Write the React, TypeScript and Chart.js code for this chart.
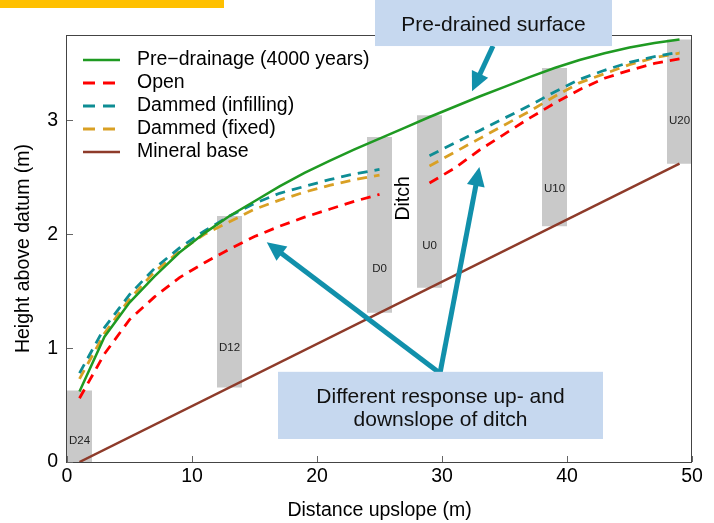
import React, { useEffect, useRef } from "react";
import { Chart, registerables } from "chart.js";

Chart.register(...registerables);

// ---------------- data ----------------
const xAll = [1, 3, 5, 7, 9, 11, 13, 15, 17, 19, 21, 23, 25, 27, 29, 31, 33, 35, 37, 39, 41, 43, 45, 47, 49];
const preDrainage = [0.62, 1.1, 1.4, 1.63, 1.84, 2.01, 2.16, 2.29, 2.42, 2.54, 2.645, 2.745, 2.84, 2.935, 3.03, 3.12, 3.21, 3.295, 3.38, 3.46, 3.53, 3.59, 3.64, 3.68, 3.71];

const xDown = [1, 3, 5, 7, 9, 11, 13, 15, 17, 19, 21, 23, 25];
const xUp = [29, 31, 33, 35, 37, 39, 41, 43, 45, 47, 49];

const openDown = [0.56, 0.95, 1.25, 1.45, 1.62, 1.75, 1.87, 1.98, 2.07, 2.15, 2.22, 2.29, 2.35];
const openUp = [2.45, 2.58, 2.74, 2.88, 3.02, 3.15, 3.27, 3.37, 3.44, 3.5, 3.54];

const infillDown = [0.78, 1.18, 1.47, 1.7, 1.88, 2.03, 2.16, 2.27, 2.36, 2.42, 2.48, 2.53, 2.57];
const infillUp = [2.69, 2.8, 2.91, 3.02, 3.13, 3.25, 3.36, 3.44, 3.51, 3.56, 3.6];

const fixedDown = [0.73, 1.13, 1.43, 1.67, 1.85, 2.0, 2.11, 2.22, 2.3, 2.37, 2.43, 2.48, 2.52];
const fixedUp = [2.6, 2.72, 2.84, 2.96, 3.08, 3.21, 3.33, 3.41, 3.49, 3.55, 3.59];

const mineralX = [1, 49];
const mineralY = [0, 2.62];

const barNames = ["D24", "D12", "D0", "U0", "U10", "U20"];
const barX = [1, 13, 25, 29, 39, 49];
const barBottom = [0, 0.655, 1.31, 1.53, 2.07, 2.62];
const barTop = [0.628, 2.16, 2.855, 3.045, 3.46, 3.71];

const xTicks = [0, 10, 20, 30, 40, 50];
const yTicks = [0, 1, 2, 3];

const seriesLabels = ["Pre\u2212drainage (4000 years)", "Open", "Dammed (infilling)", "Dammed (fixed)", "Mineral base"];

// ---------------- annotation layout (data units) ----------------
const barLabelY = [0.19, 1.0, 1.7, 1.9, 2.4, 3.0];
const ditchPos = { x: 26.96, y: 2.315 };
const topBox = { x0: 24.64, x1: 43.6, y0: 4.07, y1: 3.653, text: ["Pre-drained surface"], textY: [3.84] };
const bottomBox = { x0: 16.88, x1: 42.88, y0: 0.792, y1: 0.202, text: ["Different response up- and", "downslope of ditch"], textY: [0.572, 0.37] };
const arrows = [
  { from: [34.08, 3.653], to: [32.4, 3.257] },
  { from: [29.84, 0.78], to: [15.98, 1.93] },
  { from: [29.84, 0.78], to: [32.99, 2.59] },
];

const FONT = "'Liberation Sans', Arial, Helvetica, sans-serif";
const ARROW_COLOR = "#1190ab";
const BOX_COLOR = "#c6d8ef";

function withGap(down: number[], up: number[]) {
  return [
    ...xDown.map((x, i) => ({ x, y: down[i] })),
    { x: (xDown[xDown.length - 1] + xUp[0]) / 2, y: null },
    ...xUp.map((x, i) => ({ x, y: up[i] })),
  ];
}

const decorPlugin = {
  id: "decor",
  afterDatasetsDraw(chart: any) {
    const { ctx, chartArea, scales } = chart;
    const { left, right, top, bottom } = chartArea;
    const X = (v: number) => scales.x.getPixelForValue(v);
    const Y = (v: number) => scales.y.getPixelForValue(v);
    ctx.save();
    // frame
    ctx.strokeStyle = "#444";
    ctx.lineWidth = 1;
    ctx.setLineDash([]);
    ctx.strokeRect(Math.round(left) - 0.5, Math.round(top) + 0.5, Math.round(right - left), Math.round(bottom - top));
    // inward ticks
    ctx.strokeStyle = "#666";
    ctx.beginPath();
    scales.x.ticks.forEach((t: any) => {
      const px = Math.round(X(t.value)) + 0.5;
      ctx.moveTo(px, bottom);
      ctx.lineTo(px, bottom - 6);
    });
    scales.y.ticks.forEach((t: any) => {
      const py = Math.round(Y(t.value)) + 0.5;
      ctx.moveTo(left, py);
      ctx.lineTo(left + 6, py);
    });
    ctx.stroke();

    // bar labels
    ctx.fillStyle = "#222";
    ctx.font = `11.5px ${FONT}`;
    ctx.textAlign = "center";
    ctx.textBaseline = "middle";
    barNames.forEach((n, i) => ctx.fillText(n, X(barX[i]), Y(barLabelY[i])));

    // Ditch label
    ctx.save();
    ctx.fillStyle = "#000";
    ctx.font = `19.5px ${FONT}`;
    ctx.translate(X(ditchPos.x), Y(ditchPos.y));
    ctx.rotate(-Math.PI / 2);
    ctx.fillText("Ditch", 0, 0);
    ctx.restore();

    // legend
    const ds = chart.data.datasets.slice(0, 5);
    ds.forEach((d: any, i: number) => {
      const ly = top + 25 + i * 23;
      ctx.strokeStyle = d.borderColor;
      ctx.lineWidth = d.borderWidth;
      ctx.setLineDash(d.borderDash && d.borderDash.length ? [12, 8] : []);
      ctx.beginPath();
      ctx.moveTo(left + 16, ly);
      ctx.lineTo(left + 53, ly);
      ctx.stroke();
      ctx.setLineDash([]);
      ctx.fillStyle = "#000";
      ctx.font = `19.5px ${FONT}`;
      ctx.textAlign = "left";
      ctx.textBaseline = "middle";
      ctx.fillText(d.label, left + 70, ly);
    });
    ctx.restore();
  },
  afterDraw(chart: any) {
    const { ctx, scales } = chart;
    const X = (v: number) => scales.x.getPixelForValue(v);
    const Y = (v: number) => scales.y.getPixelForValue(v);
    ctx.save();
    // arrows
    arrows.forEach((a) => {
      const x0 = X(a.from[0]), y0 = Y(a.from[1]);
      const x1 = X(a.to[0]), y1 = Y(a.to[1]);
      const dx = x1 - x0, dy = y1 - y0;
      const len = Math.hypot(dx, dy);
      const ux = dx / len, uy = dy / len;
      const headLen = 19, headHalf = 9;
      const bx = x1 - ux * headLen, by = y1 - uy * headLen;
      ctx.strokeStyle = ARROW_COLOR;
      ctx.fillStyle = ARROW_COLOR;
      ctx.lineWidth = 5;
      ctx.lineCap = "butt";
      ctx.beginPath();
      ctx.moveTo(x0, y0);
      ctx.lineTo(bx + ux * 2, by + uy * 2);
      ctx.stroke();
      ctx.beginPath();
      ctx.moveTo(x1, y1);
      ctx.lineTo(bx - uy * headHalf, by + ux * headHalf);
      ctx.lineTo(bx + uy * headHalf, by - ux * headHalf);
      ctx.closePath();
      ctx.fill();
    });
    // boxes
    [topBox, bottomBox].forEach((b) => {
      const px0 = X(b.x0), px1 = X(b.x1), py0 = Y(b.y0), py1 = Y(b.y1);
      ctx.fillStyle = BOX_COLOR;
      ctx.fillRect(px0, py0, px1 - px0, py1 - py0);
      ctx.fillStyle = "#111";
      ctx.font = `21px ${FONT}`;
      ctx.textAlign = "center";
      ctx.textBaseline = "middle";
      b.text.forEach((t, i) => ctx.fillText(t, (px0 + px1) / 2, Y(b.textY[i])));
    });
    ctx.restore();
  },
};

export default function App() {
  const ref = useRef<HTMLCanvasElement | null>(null);
  useEffect(() => {
    if (!ref.current) return;
    Chart.defaults.font.family = FONT;
    const lineCommon = { pointRadius: 0, pointHoverRadius: 0, tension: 0, fill: false, spanGaps: false };
    const chart = new Chart(ref.current, {
      type: "line",
      data: {
        datasets: [
          { ...lineCommon, label: seriesLabels[0], data: xAll.map((x, i) => ({ x, y: preDrainage[i] })), borderColor: "#1f9a22", borderWidth: 2.5 },
          { ...lineCommon, label: seriesLabels[1], data: withGap(openDown, openUp), borderColor: "#ff0000", borderWidth: 2.8, borderDash: [10, 7] },
          { ...lineCommon, label: seriesLabels[2], data: withGap(infillDown, infillUp), borderColor: "#0e8d94", borderWidth: 2.8, borderDash: [10, 7] },
          { ...lineCommon, label: seriesLabels[3], data: withGap(fixedDown, fixedUp), borderColor: "#d9a024", borderWidth: 2.8, borderDash: [10, 7] },
          { ...lineCommon, label: seriesLabels[4], data: mineralX.map((x, i) => ({ x, y: mineralY[i] })), borderColor: "#8e3b2a", borderWidth: 2.5 },
          {
            type: "bar",
            label: "profiles",
            data: barX.map((x, i) => ({ x, y: [barBottom[i], barTop[i]] })),
            backgroundColor: "#c9c9c9",
            borderWidth: 0,
            barPercentage: 0.5,
            categoryPercentage: 1,
          } as any,
        ],
      },
      options: {
        animation: false,
        responsive: false,
        events: [],
        layout: { padding: { left: 0, right: 22, top: 35, bottom: 0 } },
        plugins: { legend: { display: false }, tooltip: { enabled: false } },
        scales: {
          x: {
            type: "linear",
            min: 0,
            max: 50,
            offset: false,
            grid: { display: false, drawTicks: false, tickLength: 0 },
            border: { display: false },
            ticks: { color: "#000", font: { size: 19.5 }, padding: 3, maxRotation: 0, autoSkip: false, includeBounds: false },
            afterBuildTicks: (s: any) => {
              s.ticks = xTicks.map((v) => ({ value: v }));
            },
            afterFit: (s: any) => {
              s.height = 61;
            },
            title: { display: true, text: "Distance upslope (m)", color: "#000", font: { size: 19.5 }, padding: { top: 0, bottom: 1 } },
          },
          y: {
            type: "linear",
            min: 0,
            max: 3.75,
            grid: { display: false, drawTicks: false, tickLength: 0 },
            border: { display: false },
            ticks: { color: "#000", font: { size: 19.5 }, padding: 9, includeBounds: false },
            afterBuildTicks: (s: any) => {
              s.ticks = yTicks.map((v) => ({ value: v }));
            },
            afterFit: (s: any) => {
              s.width = 67;
            },
            title: { display: true, text: "Height above datum (m)", color: "#000", font: { size: 19.5 }, padding: { top: 12, bottom: 0 } },
          },
        },
      } as any,
      plugins: [decorPlugin],
    });
    return () => chart.destroy();
  }, []);

  return (
    <div style={{ position: "fixed", left: 0, top: 0, width: 714, height: 523, background: "#fff" }}>
      <canvas ref={ref} width={714} height={523} style={{ display: "block", width: 714, height: 523 }} />
      <div style={{ position: "absolute", left: 0, top: 0, width: 224, height: 8, background: "#ffc000" }} />
    </div>
  );
}
